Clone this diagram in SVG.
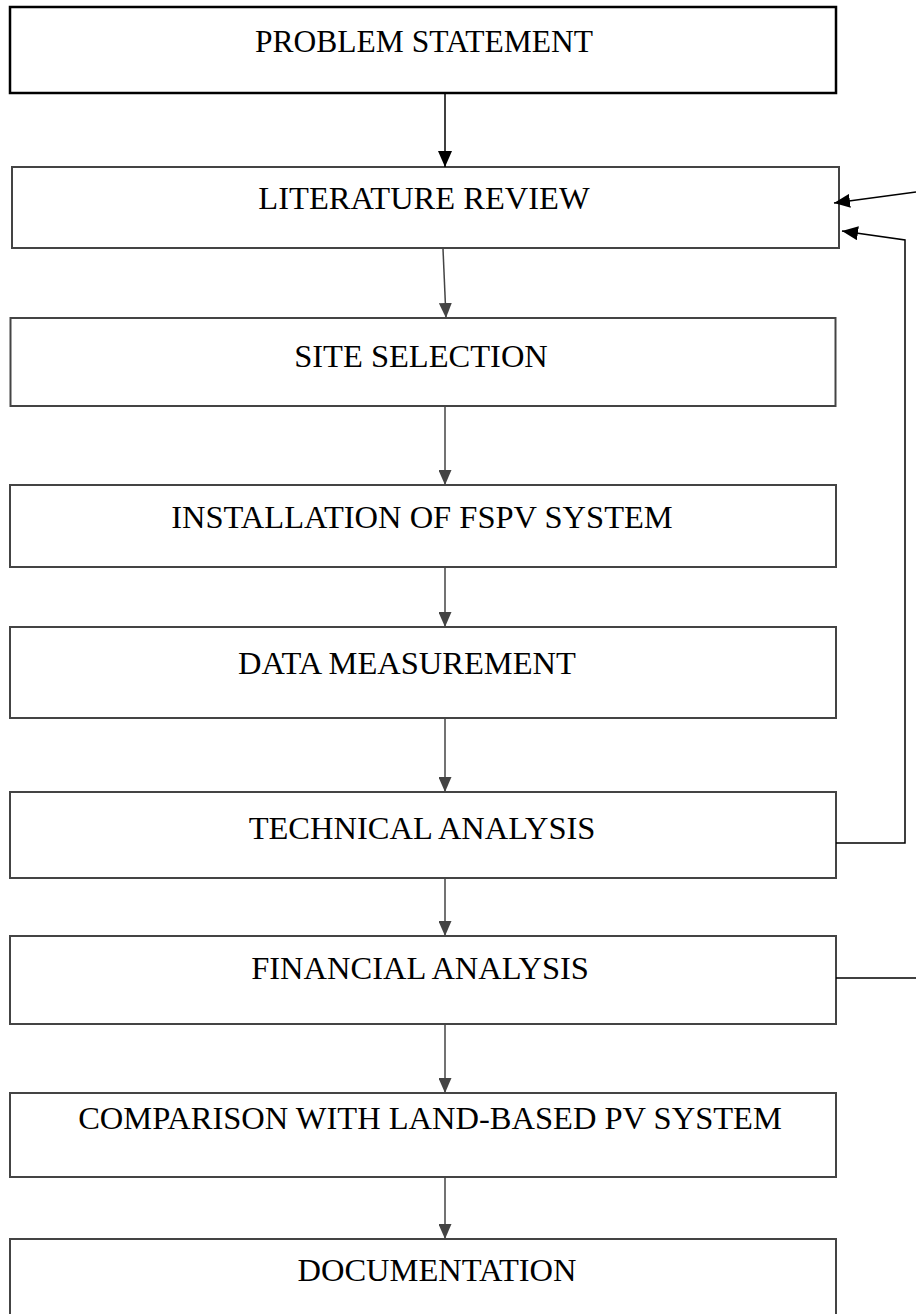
<svg xmlns="http://www.w3.org/2000/svg" width="916" height="1314" viewBox="0 0 916 1314">
<defs>
<style>
.box{fill:#fff;stroke:#444;stroke-width:2}
.box1{fill:#fff;stroke:#000;stroke-width:2.5}
.lbl{font-family:"Liberation Serif","Times New Roman",serif;font-size:32.5px;fill:#000;text-anchor:middle}
.c{fill:none;stroke:#444;stroke-width:1.5}
.cb{fill:none;stroke:#000;stroke-width:1.5}
</style>
<marker id="ag" markerWidth="15" markerHeight="13" refX="15" refY="6.5" orient="auto" markerUnits="userSpaceOnUse">
<path d="M0,0 L15,6.5 L0,13 Z" fill="#444"/>
</marker>
<marker id="ab" markerWidth="16" markerHeight="14" refX="16" refY="7" orient="auto" markerUnits="userSpaceOnUse">
<path d="M0,0 L16,7 L0,14 Z" fill="#000"/>
</marker>
</defs>
<rect width="916" height="1314" fill="#fff"/>
<g id="n1"><rect class="box1" x="10" y="7" width="826" height="86"/><text class="lbl" x="424" y="52" style="font-size:31.5px">PROBLEM STATEMENT</text></g>
<g id="n2"><rect class="box" x="12" y="167" width="827" height="81"/><text class="lbl" x="424" y="209">LITERATURE REVIEW</text></g>
<g id="n3"><rect class="box" x="10.5" y="318" width="825" height="88"/><text class="lbl" x="421" y="367">SITE SELECTION</text></g>
<g id="n4"><rect class="box" x="10" y="485" width="826" height="82"/><text class="lbl" x="422" y="528">INSTALLATION OF FSPV SYSTEM</text></g>
<g id="n5"><rect class="box" x="10" y="627" width="826" height="91"/><text class="lbl" x="407" y="674">DATA MEASUREMENT</text></g>
<g id="n6"><rect class="box" x="10" y="792" width="826" height="86"/><text class="lbl" x="422" y="839">TECHNICAL ANALYSIS</text></g>
<g id="n7"><rect class="box" x="10" y="936" width="826" height="88"/><text class="lbl" x="420" y="979">FINANCIAL ANALYSIS</text></g>
<g id="n8"><rect class="box" x="10" y="1093" width="826" height="84"/><text class="lbl" x="430" y="1129">COMPARISON WITH LAND-BASED PV SYSTEM</text></g>
<g id="n9"><rect class="box" x="10" y="1239" width="826" height="100"/><text class="lbl" x="437" y="1281">DOCUMENTATION</text></g>
<g id="connectors">
<line class="cb" x1="445" y1="94" x2="445" y2="167" marker-end="url(#ab)"/>
<line class="c" x1="443" y1="249" x2="446" y2="318" marker-end="url(#ag)"/>
<line class="c" x1="445" y1="407" x2="445" y2="485" marker-end="url(#ag)"/>
<line class="c" x1="445" y1="568" x2="445" y2="627" marker-end="url(#ag)"/>
<line class="c" x1="445" y1="719" x2="445" y2="792" marker-end="url(#ag)"/>
<line class="c" x1="445" y1="879" x2="445" y2="936" marker-end="url(#ag)"/>
<line class="c" x1="445" y1="1025" x2="445" y2="1093" marker-end="url(#ag)"/>
<line class="c" x1="445" y1="1178" x2="445" y2="1239" marker-end="url(#ag)"/>
<polyline class="cb" points="836,843 905,843 905,240 842,231" marker-end="url(#ab)"/>
<line class="cb" x1="836" y1="978" x2="916" y2="978"/>
<line class="cb" x1="916" y1="192" x2="834" y2="203" marker-end="url(#ab)"/>
</g>
</svg>
